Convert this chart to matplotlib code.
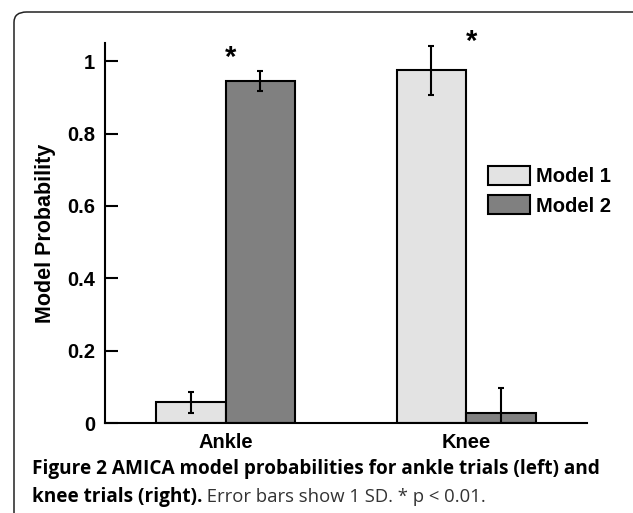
import matplotlib
matplotlib.use("Agg")
import matplotlib.pyplot as plt
from matplotlib.patches import FancyBboxPatch
import numpy as np

# data
groups = ["Ankle", "Knee"]
models = ["Model 1", "Model 2"]
model1_mean = [0.058, 0.975]
model1_sd = [0.029, 0.068]
model2_mean = [0.945, 0.027]
model2_sd = [0.028, 0.070]
star_y = [1.008, 1.054]
yticks = [0, 0.2, 0.4, 0.6, 0.8, 1]
ytick_labels = ["0", "0.2", "0.4", "0.6", "0.8", "1"]

plt.rcParams['font.family'] = ['Liberation Sans', 'DejaVu Sans']
plt.rcParams['font.weight'] = 'bold'

fig = plt.figure(figsize=(6.33, 5.13), dpi=100)
ax = fig.add_axes([0.166, 0.1754, 0.761, 0.7406])

x = np.arange(1, len(groups) + 1)
w = 0.29
err_kw = dict(elinewidth=1.5, capthick=1.5, ecolor='black')
ax.bar(x - w / 2, model1_mean, w, yerr=model1_sd, capsize=2.5, color='#e3e3e3',
       edgecolor='black', linewidth=1.5, label=models[0], error_kw=err_kw)
ax.bar(x + w / 2, model2_mean, w, yerr=model2_sd, capsize=2.5, color='#808080',
       edgecolor='black', linewidth=1.5, label=models[1], error_kw=err_kw)

# significance stars
for xi, yi in zip(x, star_y):
    ax.text(xi + 0.02, yi, "*", ha='center', va='center', fontsize=21, fontweight='bold',
            clip_on=False)

ax.set_xlim(0.5, 2.5)
ax.set_ylim(0, 1.05)
ax.set_yticks(yticks)
ax.set_yticklabels(ytick_labels)
ax.set_xticks(x)
ax.set_xticklabels(groups)
ax.tick_params(axis='y', direction='in', length=9, width=1.5, pad=7, labelsize=14.5)
ax.tick_params(axis='x', length=0, pad=7, labelsize=14.5)
ax.set_ylabel("Model Probability", fontsize=15.5, fontweight='bold', labelpad=8)
for s in ['top', 'right']:
    ax.spines[s].set_visible(False)
for s in ['left', 'bottom']:
    ax.spines[s].set_linewidth(1.5)

ax.legend(loc='upper left', bbox_to_anchor=(0.795, 0.676), frameon=False, fontsize=14.5,
          borderpad=0, borderaxespad=0, handlelength=2.1, handleheight=1.05,
          handletextpad=0.3, labelspacing=0.45)

# rounded frame around the figure panel
frame = FancyBboxPatch((14 / 633, -0.2), 1.2, 1.2 - 12 / 513,
                       boxstyle="round,pad=0,rounding_size=0.02",
                       transform=fig.transFigure, fill=False, edgecolor='#222222',
                       linewidth=1.1, clip_on=False)
fig.patches.append(frame)

# caption
cap_font = ['Open Sans', 'DejaVu Sans']
cap_size = 13.65
fig.text(32 / 633, 1 - 474 / 513,
         "Figure 2 AMICA model probabilities for ankle trials (left) and",
         fontsize=cap_size, fontweight='bold', family=cap_font, va='baseline')
t_bold = fig.text(32 / 633, 1 - 502 / 513, "knee trials (right).",
                  fontsize=cap_size, fontweight='bold', family=cap_font, va='baseline')
fig.canvas.draw()
bb = t_bold.get_window_extent()
fig.text(bb.x1 / fig.bbox.width, 1 - 502 / 513, " Error bars show 1 SD. * p < 0.01.",
         fontsize=cap_size - 0.3, fontweight='normal', family=cap_font, va='baseline',
         color='#333333')

fig.savefig("out.png", dpi=100)
